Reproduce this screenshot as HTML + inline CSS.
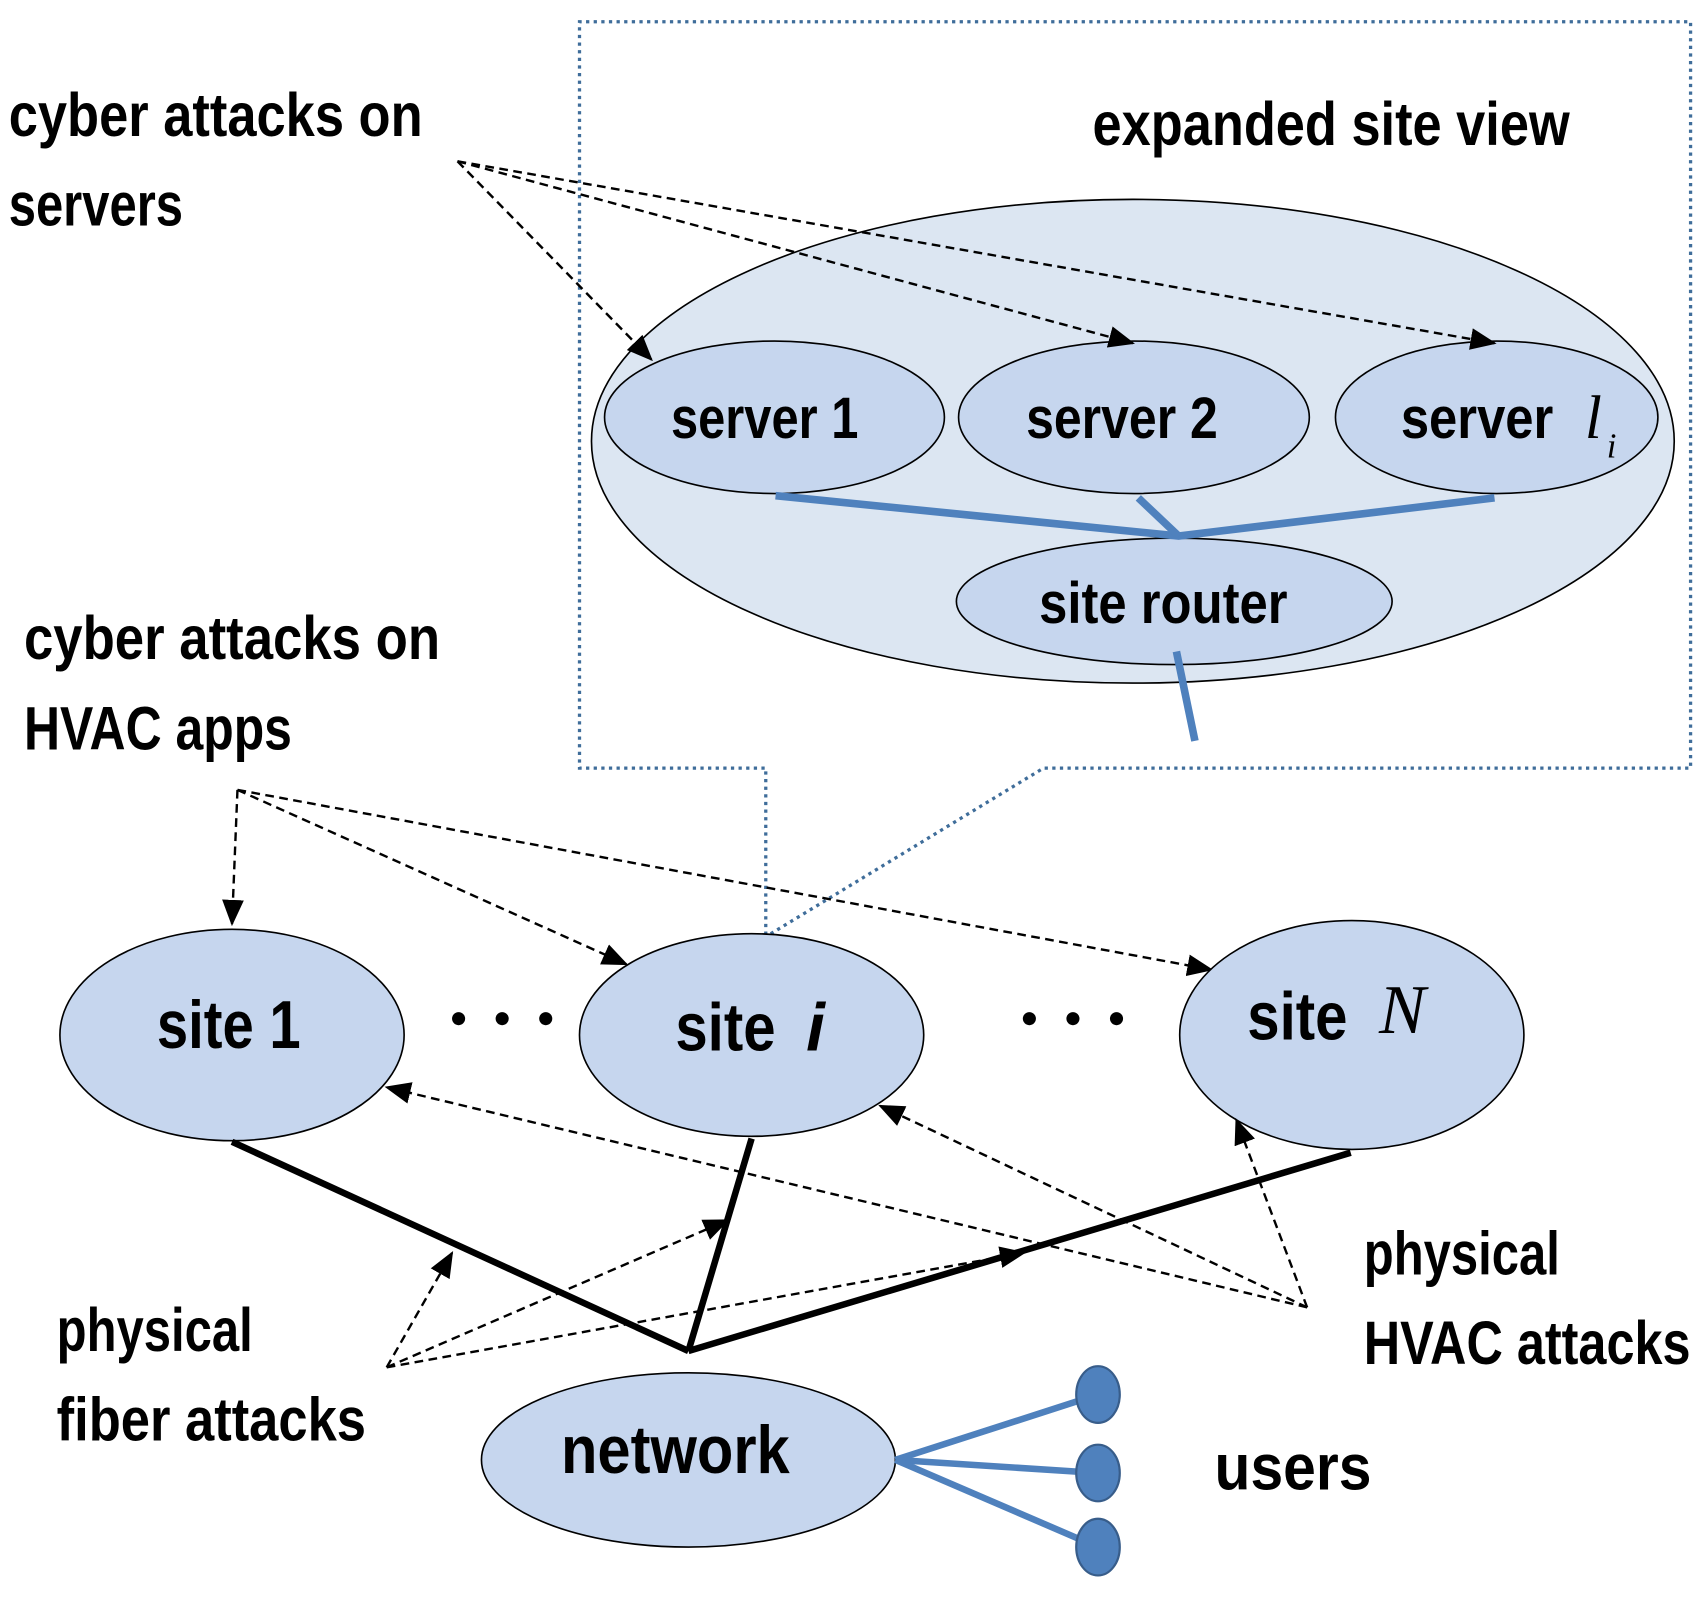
<!DOCTYPE html>
<html><head><meta charset="utf-8"><style>
html,body{margin:0;padding:0;background:#fff}
svg{display:block}
text{font-family:"Liberation Sans",sans-serif;font-weight:bold;fill:#000}
</style></head><body>
<svg width="1708" height="1607" viewBox="0 0 1568 1475" preserveAspectRatio="none" xmlns="http://www.w3.org/2000/svg">
<defs>
<marker id="b" markerWidth="24" markerHeight="20" refX="22" refY="10" orient="auto" markerUnits="userSpaceOnUse" viewBox="0 0 24 20">
<path d="M0,0 L24,10 L0,20 z" fill="#000"/></marker>
</defs>
<polyline points="703,858 703,705 532,705 532,20 1552,20 1552,705 958,705 706,858" fill="none" stroke="#3f6d9a" stroke-width="3" stroke-dasharray="3,4"/>
<ellipse cx="1040" cy="405" rx="497" ry="222" fill="#dce6f2" stroke="#000" stroke-width="1.5"/>
<text x="1222" y="133" font-size="56" text-anchor="middle" textLength="438" lengthAdjust="spacingAndGlyphs">expanded site view</text>
<ellipse cx="711" cy="383" rx="156" ry="70" fill="#c6d6ee" stroke="#000" stroke-width="1.5"/>
<ellipse cx="1041" cy="383" rx="161" ry="70" fill="#c6d6ee" stroke="#000" stroke-width="1.5"/>
<ellipse cx="1374" cy="383" rx="148" ry="70" fill="#c6d6ee" stroke="#000" stroke-width="1.5"/>
<ellipse cx="1078" cy="552" rx="200" ry="58" fill="#c6d6ee" stroke="#000" stroke-width="1.5"/>
<text x="702" y="402" font-size="54" text-anchor="middle" textLength="172" lengthAdjust="spacingAndGlyphs">server 1</text>
<text x="1030" y="402" font-size="54" text-anchor="middle" textLength="176" lengthAdjust="spacingAndGlyphs">server 2</text>
<text x="1356" y="402" font-size="54" text-anchor="middle" textLength="140" lengthAdjust="spacingAndGlyphs">server</text>
<text x="1455" y="402" font-size="56" style="font-family:'Liberation Serif',serif;font-weight:normal;font-style:italic">l</text>
<text x="1475" y="420" font-size="32" style="font-family:'Liberation Serif',serif;font-weight:normal;font-style:italic">i</text>
<text x="1068" y="572" font-size="54" text-anchor="middle" textLength="228" lengthAdjust="spacingAndGlyphs">site router</text>
<g stroke="#4f81bd" stroke-width="7" fill="none">
<polyline points="712,455 1082,492 1372,457"/>
<line x1="1045" y1="457" x2="1082" y2="492"/>
<line x1="1080" y1="598" x2="1097" y2="680"/>
</g>
<text x="8" y="125" font-size="56" textLength="380" lengthAdjust="spacingAndGlyphs">cyber attacks  on</text>
<text x="8" y="207" font-size="56" textLength="160" lengthAdjust="spacingAndGlyphs">servers</text>
<text x="22" y="605" font-size="56" textLength="382" lengthAdjust="spacingAndGlyphs">cyber attacks  on</text>
<text x="22" y="688" font-size="56" textLength="246" lengthAdjust="spacingAndGlyphs">HVAC apps</text>
<g stroke="#000" stroke-width="2.2" stroke-dasharray="8,5" fill="none">
<line x1="420" y1="148" x2="598" y2="330" marker-end="url(#b)"/>
<line x1="420" y1="148" x2="1040" y2="315" marker-end="url(#b)"/>
<line x1="420" y1="148" x2="1372" y2="315" marker-end="url(#b)"/>
<line x1="218" y1="725" x2="213" y2="848" marker-end="url(#b)"/>
<line x1="218" y1="725" x2="575" y2="885" marker-end="url(#b)"/>
<line x1="218" y1="725" x2="1112" y2="890" marker-end="url(#b)"/>
</g>
<ellipse cx="213" cy="950" rx="158" ry="97" fill="#c6d6ee" stroke="#000" stroke-width="1.5"/>
<ellipse cx="690" cy="950" rx="158" ry="93" fill="#c6d6ee" stroke="#000" stroke-width="1.5"/>
<ellipse cx="1241" cy="950" rx="158" ry="105" fill="#c6d6ee" stroke="#000" stroke-width="1.5"/>
<text x="210" y="962" font-size="62" text-anchor="middle" textLength="132" lengthAdjust="spacingAndGlyphs">site 1</text>
<text x="620" y="964" font-size="62" textLength="92" lengthAdjust="spacingAndGlyphs">site</text>
<text x="740" y="964" font-size="62" font-style="italic">i</text>
<text x="1145" y="954" font-size="62" textLength="92" lengthAdjust="spacingAndGlyphs">site</text>
<text x="1266" y="948" font-size="64" style="font-family:'Liberation Serif',serif;font-weight:normal;font-style:italic">N</text>
<g fill="#000">
<circle cx="421" cy="935" r="6"/><circle cx="461" cy="935" r="6"/><circle cx="501" cy="935" r="6"/>
<circle cx="945" cy="935" r="6"/><circle cx="985" cy="935" r="6"/><circle cx="1025" cy="935" r="6"/>
</g>
<ellipse cx="632" cy="1340" rx="190" ry="80" fill="#c6d6ee" stroke="#000" stroke-width="1.5"/>
<text x="620" y="1352" font-size="62" text-anchor="middle" textLength="210" lengthAdjust="spacingAndGlyphs">network</text>
<g stroke="#000" stroke-width="6">
<line x1="213" y1="1048" x2="632" y2="1240"/>
<line x1="690" y1="1045" x2="632" y2="1240"/>
<line x1="1240" y1="1058" x2="632" y2="1240"/>
</g>
<g stroke="#4f81bd" stroke-width="6">
<line x1="822" y1="1340" x2="1008" y2="1280"/>
<line x1="822" y1="1340" x2="1008" y2="1352"/>
<line x1="822" y1="1340" x2="1008" y2="1420"/>
</g>
<g fill="#4f81bd" stroke="#385d8a" stroke-width="2">
<ellipse cx="1008" cy="1280" rx="20" ry="26"/>
<ellipse cx="1008" cy="1352" rx="20" ry="26"/>
<ellipse cx="1008" cy="1420" rx="20" ry="26"/>
</g>
<text x="1115" y="1367" font-size="60" textLength="144" lengthAdjust="spacingAndGlyphs">users</text>
<text x="52" y="1240" font-size="56" textLength="180" lengthAdjust="spacingAndGlyphs">physical</text>
<text x="52" y="1322" font-size="56" textLength="284" lengthAdjust="spacingAndGlyphs">fiber attacks</text>
<text x="1252" y="1170" font-size="56" textLength="180" lengthAdjust="spacingAndGlyphs">physical</text>
<text x="1252" y="1252" font-size="56" textLength="300" lengthAdjust="spacingAndGlyphs">HVAC attacks</text>
<g stroke="#000" stroke-width="2.2" stroke-dasharray="8,5" fill="none">
<line x1="355" y1="1255" x2="415" y2="1150" marker-end="url(#b)"/>
<line x1="355" y1="1255" x2="668" y2="1120" marker-end="url(#b)"/>
<line x1="355" y1="1255" x2="940" y2="1150" marker-end="url(#b)"/>
<line x1="1200" y1="1200" x2="355" y2="998" marker-end="url(#b)"/>
<line x1="1200" y1="1200" x2="808" y2="1015" marker-end="url(#b)"/>
<line x1="1200" y1="1200" x2="1135" y2="1028" marker-end="url(#b)"/>
</g>
</svg>
</body></html>
